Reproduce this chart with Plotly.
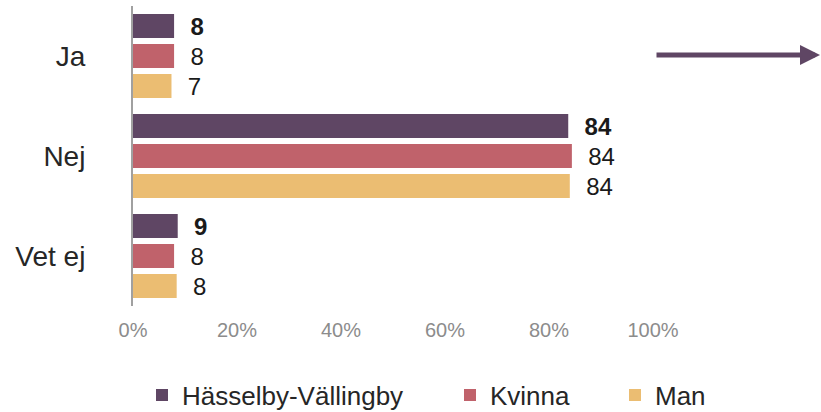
import plotly.graph_objects as go

categories = ["Ja", "Nej", "Vet ej"]
series_names = ["Hässelby-Vällingby", "Kvinna", "Man"]
hasselby = [7.9, 83.7, 8.6]
kvinna = [7.9, 84.4, 7.9]
man = [7.4, 84.0, 8.4]
tick_vals = [0, 20, 40, 60, 80, 100]
tick_text = ["0%", "20%", "40%", "60%", "80%", "100%"]

colors = ["#5f4664", "#c0626b", "#ebbd72"]
values = [hasselby, kvinna, man]
bold = [True, False, False]
FONT = "Arial, Liberation Sans, sans-serif"

fig = go.Figure()
legend_ids = ["legend", "legend2", "legend3"]
for name, vals, col, b, lg in zip(series_names, values, colors, bold, legend_ids):
    fig.add_trace(go.Bar(
        name=name, y=categories, x=vals, orientation="h",
        marker=dict(color=col, line=dict(width=0)),
        text=[("\u00a0\u00a0<b>%d</b>" if b else "\u00a0\u00a0%d") % round(v) for v in vals],
        textposition="outside", constraintext="none", cliponaxis=False,
        textfont=dict(size=24, color="#1a1a1a", family=FONT),
        legend=lg,
    ))

W, H = 821, 412
L, R, T, B = 133, 821 - 653, 6, 412 - 306
pw = W - L - R
ph = H - T - B

def px_x(p):
    return (p - L) / pw

legend_y = 1 - 395 / H
legend_common = dict(orientation="h", yanchor="middle", y=legend_y, xanchor="left",
                     xref="container", yref="container",
                     font=dict(size=26, color="#262626", family=FONT),
                     bgcolor="rgba(0,0,0,0)", itemwidth=30)

fig.update_layout(
    width=W, height=H,
    margin=dict(l=L, r=R, t=T, b=B, autoexpand=False),
    paper_bgcolor="white", plot_bgcolor="white",
    barmode="group", bargap=0.1, bargroupgap=0.2,
    font=dict(family=FONT, color="#262626"),
    showlegend=True,
    legend=dict(x=(158 - 16) / W, **legend_common),
    legend2=dict(x=(466 - 16) / W, **legend_common),
    legend3=dict(x=(631 - 16) / W, **legend_common),
    xaxis=dict(range=[0, 100], tickvals=tick_vals, ticktext=tick_text,
               showgrid=False, zeroline=False, showline=False, automargin=False,
               tickfont=dict(size=20, color="#8c8c8c", family=FONT),
               ticklabelstandoff=10),
    yaxis=dict(autorange="reversed", showgrid=False, zeroline=False, automargin=False,
               showline=True, linecolor="#a0a0a0", linewidth=2,
               tickfont=dict(size=28, color="#262626", family=FONT),
               ticklabelstandoff=40),
)

fig.add_annotation(
    xref="paper", yref="paper",
    x=px_x(820), y=(306 - 55) / ph,
    ax=-(820 - 655), ay=0, axref="pixel", ayref="pixel",
    text="", showarrow=True, arrowhead=2, arrowsize=0.8, arrowwidth=5,
    arrowcolor="#5f4664", standoff=0,
)

fig.write_html("out.html", config={"displayModeBar": False},
               post_script="document.body.style.margin='0';document.body.style.overflow='hidden';")
